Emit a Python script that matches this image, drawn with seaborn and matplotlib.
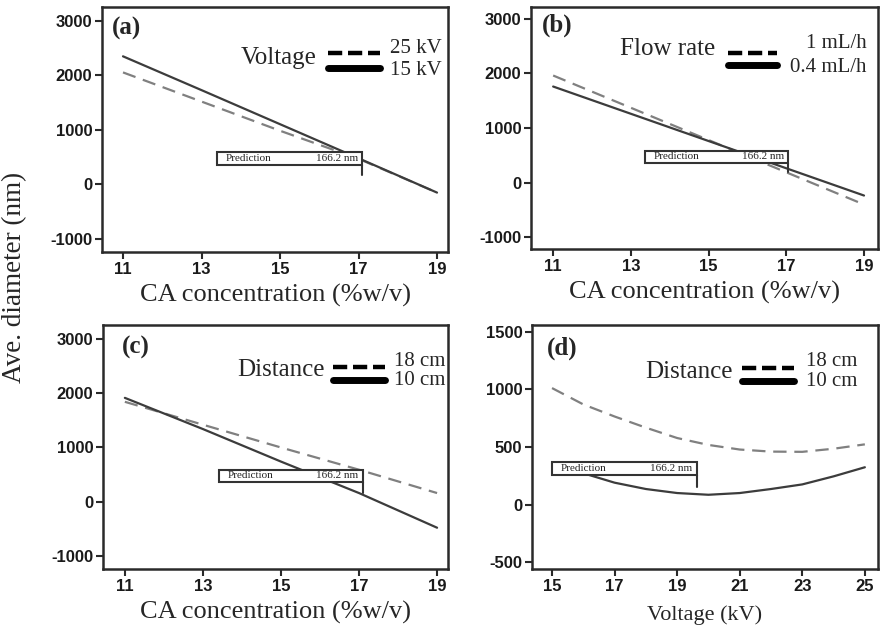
import matplotlib
matplotlib.use("Agg")
import matplotlib.pyplot as plt
from matplotlib.patches import Rectangle
import seaborn as sns
import pandas as pd

sns.set_theme(style="white")
plt.rcParams['font.family'] = ['Liberation Serif', 'DejaVu Serif']
plt.rcParams['axes.unicode_minus'] = False

# ---------------- data ----------------
ca_x = [11, 13, 15, 17, 19]
a_25kV = [2055, 1520, 985, 470, -150]
a_15kV = [2350, 1730, 1105, 480, -150]
b_1mLh = [1963, 1371, 779, 187, -404]
b_04mLh = [1761, 1261, 761, 261, -239]
c_18cm = [1842, 1420, 1000, 590, 160]
c_10cm = [1915, 1340, 740, 160, -479]

volt_x = [15, 16, 17, 18, 19, 20, 21, 22, 23, 24, 25]
d_18cm = [1012, 870, 765, 668, 578, 518, 478, 460, 458, 485, 523]
d_10cm = [355, 272, 190, 135, 100, 85, 100, 135, 175, 245, 324]

panel_tags = ["(a)", "(b)", "(c)", "(d)"]
legend_titles = ["Voltage", "Flow rate", "Distance", "Distance"]
legend_dashed = ["25 kV", "1 mL/h", "18 cm", "18 cm"]
legend_solid = ["15 kV", "0.4 mL/h", "10 cm", "10 cm"]
x_labels = ["CA concentration (%w/v)", "CA concentration (%w/v)",
            "CA concentration (%w/v)", "Voltage (kV)"]
y_label = "Ave. diameter (nm)"

pred_label = "Prediction"
pred_value = 166.2
pred_x = [17.1, 17.05, 17.1, 19.63]
pred_box_x0 = [13.39, 13.37, 13.42, 15.0]
pred_box_y = [(349, 587), (367, 587), (368, 589), (257, 367)]
pred_tick_end = [170, 200, 166, 156]

ca_ticks = [11, 13, 15, 17, 19]
ca_yticks = [-1000, 0, 1000, 2000, 3000]
volt_ticks = [15, 17, 19, 21, 23, 25]
volt_yticks = [-500, 0, 500, 1000, 1500]

# ---------------- layout ----------------
W, H = 883, 633
fig = plt.figure(figsize=(W / 100, H / 100), dpi=100)

def px_axes(L, T, w, h):
    return fig.add_axes([L / W, 1 - (T + h) / H, w / W, h / H])

axes = [px_axes(102, 7, 346, 245), px_axes(531, 7, 347, 242),
        px_axes(103, 325, 345, 244), px_axes(532, 325, 346, 244)]

series = [(ca_x, a_25kV, a_15kV), (ca_x, b_1mLh, b_04mLh),
          (ca_x, c_18cm, c_10cm), (volt_x, d_18cm, d_10cm)]
xlims = [(10.465, 19.28), (10.43, 19.36), (10.44, 19.28), (14.36, 25.42)]
ylims = [(-1240, 3255), (-1220, 3220), (-1240, 3258), (-560, 1560)]
xticks = [ca_ticks, ca_ticks, ca_ticks, volt_ticks]
yticks = [ca_yticks, ca_yticks, ca_yticks, volt_yticks]

# legend layout (axes fractions)
leg = [
    dict(tx=0.621, ty=0.792, s0=0.653, s1=0.803, dy=0.812, sy=0.751, lx=0.983, l1=0.830, l2=0.740, px=0.029, py=0.914),
    dict(tx=0.530, ty=0.826, s0=0.568, s1=0.709, dy=0.810, sy=0.760, lx=0.968, l1=0.848, l2=0.752, px=0.032, py=0.926),
    dict(tx=0.643, ty=0.816, s0=0.667, s1=0.817, dy=0.828, sy=0.775, lx=0.991, l1=0.852, l2=0.772, px=0.055, py=0.906),
    dict(tx=0.581, ty=0.807, s0=0.607, s1=0.757, dy=0.824, sy=0.770, lx=0.939, l1=0.852, l2=0.770, px=0.043, py=0.906),
]

dash_col = "#808080"
solid_col = "#3c3c3c"

for i, ax in enumerate(axes):
    xs, yd, ys = series[i]
    df = pd.DataFrame({"x": xs, "dashed": yd, "solid": ys})
    sns.lineplot(data=df, x="x", y="dashed", ax=ax, color=dash_col, lw=1.6,
                 linestyle=(0, (6, 3.5)), legend=False)
    sns.lineplot(data=df, x="x", y="solid", ax=ax, color=solid_col, lw=1.6,
                 legend=False)
    ax.set_xlim(*xlims[i])
    ax.set_ylim(*ylims[i])
    ax.set_xticks(xticks[i])
    ax.set_yticks(yticks[i])
    ax.set_ylabel("")
    ax.set_xlabel(x_labels[i], fontsize=19 if i < 3 else 16, labelpad=5 if i < 3 else 8)
    for sp in ax.spines.values():
        sp.set_linewidth(1.8)
        sp.set_color("#2a2a2a")
    ax.tick_params(axis="both", direction="out", length=5, width=1.5, color="#2a2a2a",
                   bottom=True, left=True, top=False, right=False, pad=2)
    for lab in ax.get_xticklabels() + ax.get_yticklabels():
        lab.set_fontfamily("Liberation Sans")
        lab.set_fontweight("bold")
        lab.set_fontsize(12)
        lab.set_color("#1a1a1a")

    # prediction box
    y0, y1 = pred_box_y[i]
    x0 = pred_box_x0[i]
    ax.add_patch(Rectangle((x0, y0), pred_x[i] - x0, y1 - y0, facecolor="white",
                           edgecolor="#333333", lw=1.5, zorder=5))
    ax.text(x0 + (pred_x[i] - x0) * 0.06, (y0 + y1) / 2, pred_label, fontsize=8,
            va="center", ha="left", zorder=6)
    ax.text(pred_x[i] - (pred_x[i] - x0) * 0.03, (y0 + y1) / 2, f"{pred_value} nm",
            fontsize=8, va="center", ha="right", zorder=6)
    ax.plot([pred_x[i], pred_x[i]], [y0, pred_tick_end[i]], color="#333333", lw=1.5, zorder=6)

    # legend-like annotation
    L = leg[i]
    ax.text(L["tx"], L["ty"], legend_titles[i], transform=ax.transAxes, fontsize=18,
            ha="right", va="center")
    ax.plot([L["s0"], L["s1"]], [L["dy"], L["dy"]], transform=ax.transAxes, color="black",
            lw=3.2, linestyle=(0, (3.2, 1.3)), solid_capstyle="butt", dash_capstyle="butt")
    ax.plot([L["s0"], L["s1"]], [L["sy"], L["sy"]], transform=ax.transAxes, color="black",
            lw=5, solid_capstyle="round")
    ax.text(L["lx"], L["l1"], legend_dashed[i], transform=ax.transAxes, fontsize=15,
            ha="right", va="center")
    ax.text(L["lx"], L["l2"], legend_solid[i], transform=ax.transAxes, fontsize=15,
            ha="right", va="center")
    ax.text(L["px"], L["py"], panel_tags[i], transform=ax.transAxes, fontsize=18,
            fontweight="bold", ha="left", va="center")

fig.text(15 / W, 1 - 277 / H, y_label, rotation=90, fontsize=19.5, ha="center", va="center")

fig.savefig("out.png", dpi=100)
